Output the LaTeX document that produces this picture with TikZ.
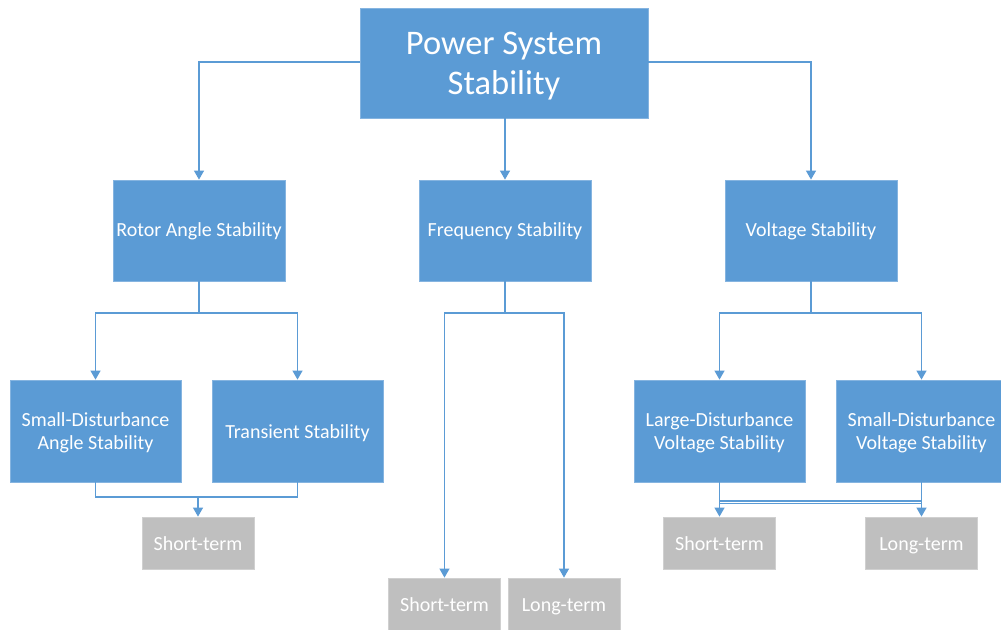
\documentclass[tikz,border=0pt]{standalone}
\usepackage{fontspec}
\setmainfont{Carlito}
\usetikzlibrary{arrows.meta}
\definecolor{boxblue}{HTML}{5B9BD5}
\definecolor{edgeblue}{HTML}{85B4E0}
\definecolor{linkblue}{HTML}{5B9BD5}
\definecolor{boxgray}{HTML}{BFBFBF}
\definecolor{edgegray}{HTML}{D0D0D0}
\newcommand{\smallstrut}{\rule{0pt}{16pt}}
\newcommand{\bigstrut}{\rule{0pt}{30pt}}
\tikzset{
  bluebox/.style={rectangle, fill=boxblue, draw=edgeblue, line width=0.8pt, inner sep=0pt},
  graybox/.style={rectangle, fill=boxgray, draw=edgegray, line width=0.8pt, inner sep=0pt,
    minimum width=112pt, minimum height=52pt},
  topbox/.style={bluebox, minimum width=288pt, minimum height=110pt},
  midbox/.style={bluebox, minimum width=172pt, minimum height=101pt},
  lowbox/.style={bluebox, minimum width=171pt, minimum height=102pt},
  txt/.style={text=white, align=center, inner sep=0pt, anchor=north, font=\fontsize{20}{23}\selectfont},
  bigtxt/.style={txt, font=\fontsize{34.5}{39.7}\selectfont},
  link/.style={draw=linkblue, line width=1.2pt},
  arr/.style={link, -{Triangle[width=10pt,length=9pt]}}
}
\begin{document}
\begin{tikzpicture}[x=1pt,y=-1pt]
\useasboundingbox (0,0) rectangle (1001,629);
\fill[white] (0,0) rectangle (1001,629);
% boxes
\node[topbox] (top) at (504,63) {};
\node[midbox] (rotor) at (199,230.5) {};
\node[midbox] (freq) at (505,230.5) {};
\node[midbox] (volt) at (811,230.5) {};
\node[lowbox] (sda) at (95.5,431) {};
\node[lowbox] (trans) at (297.5,431) {};
\node[lowbox] (ldv) at (719.5,431) {};
\node[lowbox] (sdv) at (921.5,431) {};
\node[graybox] (st1) at (198,543) {};
\node[graybox] (st2) at (444.5,604) {};
\node[graybox] (lt2) at (564,604) {};
\node[graybox] (st3) at (719.5,543) {};
\node[graybox] (lt3) at (921.5,543) {};
% texts (north = first baseline - strut height)
\node[bigtxt] (top-t) at (504,24.3) {\bigstrut Power System\\Stability};
\node[txt] (rotor-t) at (199,220.7) {\smallstrut Rotor Angle Stability};
\node[txt] (freq-t) at (505,220.7) {\smallstrut Frequency Stability};
\node[txt] (volt-t) at (811,220.7) {\smallstrut Voltage Stability};
\node[txt] (sda-t) at (95.5,410.7) {\smallstrut Small-Disturbance\\Angle Stability};
\node[txt] (trans-t) at (297.5,422) {\smallstrut Transient Stability};
\node[txt] (ldv-t) at (719.5,410.7) {\smallstrut Large-Disturbance\\Voltage Stability};
\node[txt] (sdv-t) at (921.5,410.7) {\smallstrut Small-Disturbance\\Voltage Stability};
\node[txt] (st1-t) at (198,534.7) {\smallstrut Short-term};
\node[txt] (st2-t) at (444.5,595.7) {\smallstrut Short-term};
\node[txt] (lt2-t) at (564,595.7) {\smallstrut Long-term};
\node[txt] (st3-t) at (719.5,534.7) {\smallstrut Short-term};
\node[txt] (lt3-t) at (921.5,534.7) {\smallstrut Long-term};
% junction coordinates
\coordinate (jL) at (199,313);
\coordinate (jF) at (505,313);
\coordinate (jV) at (811,313);
\coordinate (jB) at (198,497);
% top level
\draw[arr] (top.west |- 0,62) -| (rotor.north);
\draw[arr] (top.south -| freq.north) -- (freq.north);
\draw[arr] (top.east |- 0,62) -| (volt.north);
% rotor
\draw[link] (rotor.south) -- (jL);
\draw[arr] (jL) -| (sda.north);
\draw[arr] (jL) -| (trans.north);
% frequency
\draw[link] (freq.south) -- (jF);
\draw[arr] (jF) -| (st2.north);
\draw[arr] (jF) -| (lt2.north);
% voltage
\draw[link] (volt.south) -- (jV);
\draw[arr] (jV) -| (ldv.north);
\draw[arr] (jV) -| (sdv.north);
% angle children
\draw[link] (sda.south) |- (jB);
\draw[link] (trans.south) |- (jB);
\draw[arr] (jB) -- (st1.north);
% voltage children
\draw[arr] (ldv.south) -- (st3.north);
\draw[arr] (sdv.south) -- (lt3.north);
\draw[link] (ldv.south |- 0,501) -- (sdv.south |- 0,501);
\draw[link] (ldv.south |- 0,503.5) -- (sdv.south |- 0,503.5);
\end{tikzpicture}
\end{document}
